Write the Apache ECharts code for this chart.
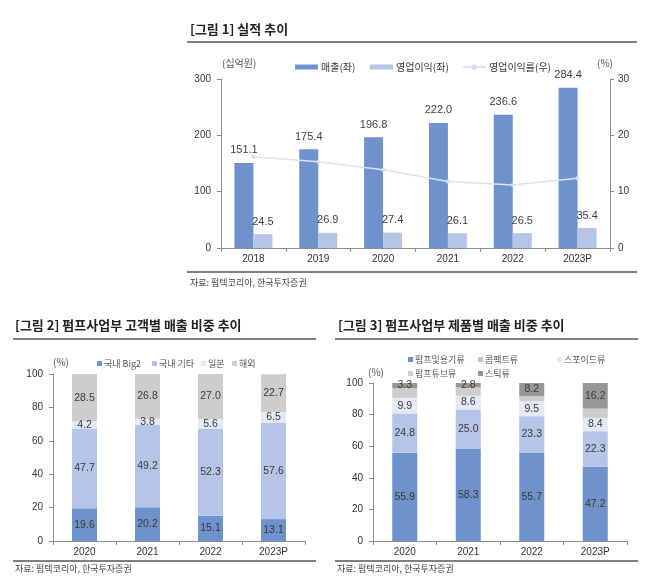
<!DOCTYPE html>
<html><head><meta charset="utf-8">
<script src="https://cdn.jsdelivr.net/npm/echarts@6/dist/echarts.min.js"></script>
<style>html,body{margin:0;padding:0;background:#fff}#c{width:670px;height:578px}</style>
</head><body><div id="c"></div>
<script>
// ---- Figure 1 data ----
const years1 = ['2018','2019','2020','2021','2022','2023P'];
const sales = [151.1,175.4,196.8,222.0,236.6,284.4];
const opProfit = [24.5,26.9,27.4,26.1,26.5,35.4];
const opMargin = [16.2,15.3,13.9,11.8,11.2,12.4];
// ---- Figure 2 data ----
const years2 = ['2020','2021','2022','2023P'];
const big2 = [19.6,20.2,15.1,13.1];
const domOther = [47.7,49.2,52.3,57.6];
const japan = [4.2,3.8,5.6,6.5];
const overseas = [28.5,26.8,27.0,22.7];
// ---- Figure 3 data ----
const pumpContainer = [55.9,58.3,55.7,47.2];
const compact = [24.8,25.0,23.3,22.3];
const dropper = [9.9,8.6,9.5,8.4];
const pumpTube = [6.1,5.3,3.3,5.9];
const stick = [3.3,2.8,8.2,16.2];

const FONT = '"Noto Sans CJK KR", "Liberation Sans", sans-serif';
const NUMFONT = '"Liberation Sans", "Noto Sans CJK KR", sans-serif';
const C_DARK = '#6f92cc', C_LIGHT = '#b4c5e7', C_PALE = '#e3e9f6', C_GRAY = '#cdcdcd', C_DGRAY = '#979797';
const axisLineStyle = {lineStyle:{color:'#8c8c8c',width:1}};
const axisLbl = {fontSize:10, color:'#333', fontFamily:NUMFONT};

function segLabel(show){
  return {show:show, position:'inside', fontSize:10.5, color:'#3a3a3a', fontFamily:NUMFONT,
          formatter:p=>p.value.toFixed(1)};
}
function smallLegend(name, left, top){
  return {data:[name], left:left, top:top, icon:'rect', itemWidth:5, itemHeight:5,
    textStyle:{fontSize:9, color:'#555', fontFamily:FONT, padding:[0,0,0,-3]}};
}
function topLegend(item, left, h){
  return {data:[item], left:left, top:57, itemWidth:23, itemHeight:h,
    textStyle:{fontSize:10, color:'#333', fontFamily:FONT, padding:[0,0,0,-2]}};
}

const chart = echarts.init(document.getElementById('c'), null, {renderer:'canvas'});
const option = {
  backgroundColor:'#fff',
  animation:false,
  textStyle:{fontFamily:FONT},
  grid:[
    {left:221, right:60, top:79, bottom:330},
    {left:53, right:365, top:374, bottom:37},
    {left:373, right:43, top:383, bottom:37}
  ],
  legend:[
    topLegend({name:'매출(좌)',icon:'rect'}, 290, 5),
    topLegend({name:'영업이익(좌)',icon:'rect'}, 365, 5),
    topLegend('영업이익률(우)', 457, 7),
    smallLegend('국내 Big2', 92, 354),
    smallLegend('국내 기타', 147, 354),
    smallLegend('일본', 196, 354),
    smallLegend('해외', 227, 354),
    smallLegend('펌프및용기류', 403, 350),
    smallLegend('콤팩트류', 473, 350),
    smallLegend('스포이드류', 552, 350),
    smallLegend('펌프튜브류', 403, 364),
    smallLegend('스틱류', 473, 364)
  ],
  xAxis:[
    {type:'category', gridIndex:0, data:years1, axisLine:axisLineStyle, axisTick:{show:true,length:4,lineStyle:{color:'#8c8c8c'}}, axisLabel:Object.assign({margin:6},axisLbl)},
    {type:'category', gridIndex:1, data:years2, axisLine:axisLineStyle, axisTick:{show:true,length:4,lineStyle:{color:'#8c8c8c'}}, axisLabel:Object.assign({margin:6},axisLbl)},
    {type:'category', gridIndex:2, data:years2, axisLine:axisLineStyle, axisTick:{show:true,length:4,lineStyle:{color:'#8c8c8c'}}, axisLabel:Object.assign({margin:6},axisLbl)}
  ],
  yAxis:[
    {type:'value', gridIndex:0, min:0, max:300, interval:100, axisLine:Object.assign({show:true},axisLineStyle), axisTick:{show:true,length:4,lineStyle:{color:'#8c8c8c'}}, splitLine:{show:false}, axisLabel:Object.assign({margin:10},axisLbl)},
    {type:'value', gridIndex:0, position:'right', min:0, max:30, interval:10, axisLine:Object.assign({show:true},axisLineStyle), axisTick:{show:true,length:4,lineStyle:{color:'#8c8c8c'}}, splitLine:{show:false}, axisLabel:Object.assign({margin:8},axisLbl)},
    {type:'value', gridIndex:1, min:0, max:100, interval:20, axisLine:Object.assign({show:true},axisLineStyle), axisTick:{show:true,length:4,lineStyle:{color:'#8c8c8c'}}, splitLine:{show:false}, axisLabel:Object.assign({margin:10},axisLbl)},
    {type:'value', gridIndex:2, min:0, max:100, interval:20, axisLine:Object.assign({show:true},axisLineStyle), axisTick:{show:true,length:4,lineStyle:{color:'#8c8c8c'}}, splitLine:{show:false}, axisLabel:Object.assign({margin:10},axisLbl)}
  ],
  series:[
    {name:'매출(좌)', type:'bar', xAxisIndex:0, yAxisIndex:0, data:sales, barWidth:19, barGap:'0%', itemStyle:{color:C_DARK},
      label:{show:true, position:'top', distance:7, fontSize:11, color:'#404040', fontFamily:NUMFONT, formatter:p=>p.value.toFixed(1)}},
    {name:'영업이익(좌)', type:'bar', xAxisIndex:0, yAxisIndex:0, data:opProfit, barWidth:19, barGap:'0%', itemStyle:{color:C_LIGHT},
      label:{show:true, position:'top', distance:7, fontSize:11, color:'#404040', fontFamily:NUMFONT, formatter:p=>p.value.toFixed(1)}},
    {name:'영업이익률(우)', type:'line', xAxisIndex:0, yAxisIndex:1, data:opMargin, symbol:'circle', symbolSize:4,
      lineStyle:{color:'#dbe3f3', width:1.5}, itemStyle:{color:'#d4ddf0'}, z:5},

    {name:'국내 Big2', type:'bar', stack:'a', xAxisIndex:1, yAxisIndex:2, data:big2, barWidth:25, itemStyle:{color:C_DARK}, label:segLabel(true)},
    {name:'국내 기타', type:'bar', stack:'a', xAxisIndex:1, yAxisIndex:2, data:domOther, barWidth:25, itemStyle:{color:C_LIGHT}, label:segLabel(true)},
    {name:'일본', type:'bar', stack:'a', xAxisIndex:1, yAxisIndex:2, data:japan, barWidth:25, itemStyle:{color:C_PALE}, label:segLabel(true)},
    {name:'해외', type:'bar', stack:'a', xAxisIndex:1, yAxisIndex:2, data:overseas, barWidth:25, itemStyle:{color:C_GRAY}, label:segLabel(true)},

    {name:'펌프및용기류', type:'bar', stack:'b', xAxisIndex:2, yAxisIndex:3, data:pumpContainer, barWidth:25, itemStyle:{color:C_DARK}, label:segLabel(true)},
    {name:'콤팩트류', type:'bar', stack:'b', xAxisIndex:2, yAxisIndex:3, data:compact, barWidth:25, itemStyle:{color:C_LIGHT}, label:segLabel(true)},
    {name:'스포이드류', type:'bar', stack:'b', xAxisIndex:2, yAxisIndex:3, data:dropper, barWidth:25, itemStyle:{color:C_PALE}, label:segLabel(true)},
    {name:'펌프튜브류', type:'bar', stack:'b', xAxisIndex:2, yAxisIndex:3, data:pumpTube, barWidth:25, itemStyle:{color:C_GRAY}, label:segLabel(false)},
    {name:'스틱류', type:'bar', stack:'b', xAxisIndex:2, yAxisIndex:3, data:stick, barWidth:25, itemStyle:{color:C_DGRAY}, label:segLabel(true)}
  ],
  graphic:[
    {type:'text', left:190, top:23, style:{text:'[그림 1] 실적 추이', font:'bold 13px "Noto Sans CJK KR"', fill:'#222'}},
    {type:'line', shape:{x1:187,y1:42,x2:637,y2:42}, style:{stroke:'#555',lineWidth:1.5}},
    {type:'text', left:222, top:58, style:{text:'(십억원)', font:'10px "Noto Sans CJK KR"', fill:'#555'}},
    {type:'text', left:597, top:58, style:{text:'(%)', font:'10px "Noto Sans CJK KR"', fill:'#555'}},
    {type:'line', shape:{x1:187,y1:272,x2:637,y2:272}, style:{stroke:'#555',lineWidth:1.5}},
    {type:'text', left:190, top:278, style:{text:'자료: 펌텍코리아, 한국투자증권', font:'9px "Noto Sans CJK KR"', fill:'#444'}},

    {type:'text', left:15, top:319, style:{text:'[그림 2] 펌프사업부 고객별 매출 비중 추이', font:'bold 13px "Noto Sans CJK KR"', fill:'#222'}},
    {type:'line', shape:{x1:13,y1:339,x2:316,y2:339}, style:{stroke:'#555',lineWidth:1.5}},
    {type:'text', left:53, top:357, style:{text:'(%)', font:'10px "Noto Sans CJK KR"', fill:'#555'}},
    {type:'line', shape:{x1:13,y1:561,x2:316,y2:561}, style:{stroke:'#555',lineWidth:1.5}},
    {type:'text', left:15, top:564, style:{text:'자료: 펌텍코리아, 한국투자증권', font:'9px "Noto Sans CJK KR"', fill:'#444'}},

    {type:'text', left:338, top:319, style:{text:'[그림 3] 펌프사업부 제품별 매출 비중 추이', font:'bold 13px "Noto Sans CJK KR"', fill:'#222'}},
    {type:'line', shape:{x1:335,y1:339,x2:638,y2:339}, style:{stroke:'#555',lineWidth:1.5}},
    {type:'text', left:368, top:367, style:{text:'(%)', font:'10px "Noto Sans CJK KR"', fill:'#555'}},
    {type:'line', shape:{x1:335,y1:561,x2:638,y2:561}, style:{stroke:'#555',lineWidth:1.5}},
    {type:'text', left:337, top:564, style:{text:'자료: 펌텍코리아, 한국투자증권', font:'9px "Noto Sans CJK KR"', fill:'#444'}}
  ]
};
chart.setOption(option);
</script></body></html>
